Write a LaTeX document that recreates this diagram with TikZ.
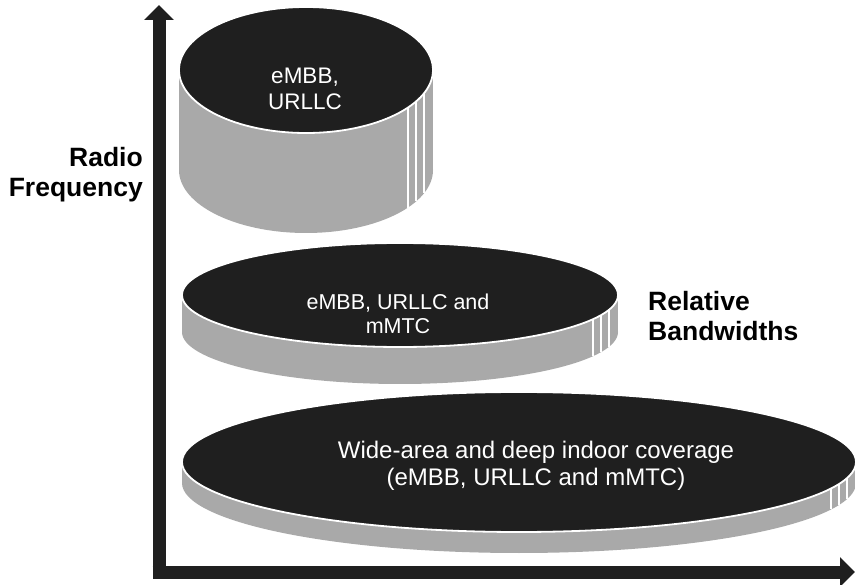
\documentclass[tikz,border=0pt]{standalone}
\usepackage{fontspec}
\setmainfont{Liberation Sans}
\usetikzlibrary{arrows.meta}
\definecolor{discblack}{HTML}{1F1F1F}
\definecolor{discgray}{HTML}{A9A9A9}
\newcommand{\drawdisc}[5]{%
  \fill[discgray] (#1-#3,#2) rectangle (#1+#3,#2+#5);
  \fill[discgray] (#1,#2+#5) ellipse [x radius=#3, y radius=#4];
  \foreach \d in {25,17,9}{%
    \pgfmathsetmacro\xx{#1+#3-\d}%
    \pgfmathsetmacro\yy{#2+#5+#4*sqrt(1-((\xx-#1)/#3)^2)}%
    \draw[stripe] (\xx,#2) -- (\xx,\yy);
  }
  \path[disctop] (#1,#2) ellipse [x radius=#3, y radius=#4];
}
\begin{document}
\begin{tikzpicture}[x=1pt,y=-1pt,
  stripe/.style={white,line width=1.2pt},
  disctop/.style={fill=discblack,draw=white,line width=1.8pt},
  disctext/.style={text=white,align=center,font=\fontsize{22.5}{26}\selectfont,inner sep=0pt},
  axislabel/.style={font=\bfseries\fontsize{26.5}{30}\selectfont,inner sep=0pt},
  axisline/.style={discblack,line width=13pt,-{Triangle[width=29pt,length=15pt]}}]
\useasboundingbox (0,0) rectangle (855,585);
\fill[white] (0,0) rectangle (855,585);
% discs
\drawdisc{306}{70}{127}{63}{100}
\drawdisc{400}{295}{218}{52}{37}
\drawdisc{519}{462}{337}{70}{21}
% texts
\node[disctext] (t1) at (305,89) {eMBB,\\URLLC};
\node[disctext,font=\fontsize{21.5}{24.5}\selectfont] (t2) at (398,314) {eMBB, URLLC and\\mMTC};
\node[disctext,font=\fontsize{24}{27.5}\selectfont] (t3) at (536,466) {Wide-area and deep indoor coverage\\(eMBB, URLLC and mMTC)};
% axes
\coordinate (corner) at (159,578.5);
\coordinate (ytip) at (159,5);
\coordinate (xstart) at (152.5,572);
\coordinate (xtip) at (855,572);
\draw[axisline] (corner) -- (ytip);
\draw[axisline] (xstart) -- (xtip);
% labels
\node[axislabel,align=right,anchor=east] (rf) at (143,175) {Radio\\Frequency};
\node[axislabel,align=left,anchor=west] (rb) at (648,316) {Relative\\Bandwidths};
\end{tikzpicture}
\end{document}
